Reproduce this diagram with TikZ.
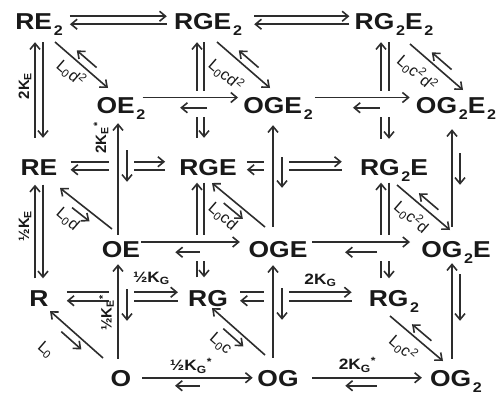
\documentclass[tikz,border=0pt]{standalone}
\usepackage{fontspec}
\setmainfont{Liberation Sans}
\usepackage{tikz}
\usetikzlibrary{arrows.meta, backgrounds}
\definecolor{inkgray}{RGB}{25, 25, 25}
\definecolor{linegray}{RGB}{45, 45, 45}
\newcommand{\dn}[1]{\kern1.5pt\raisebox{-6pt}{\fontsize{14}{14}\selectfont #1}}

\begin{document}
\begin{tikzpicture}[x=1pt, y=-1pt,
    species/.style={font=\fontsize{23}{23}\selectfont\bfseries, text=inkgray,
                    xscale=1.15, inner sep=0pt, text height=16.5pt, text depth=0pt,
                    anchor=base},
    klabel/.style={font=\fontsize{15}{15}\selectfont\bfseries, text=inkgray, inner sep=0pt},
    llabel/.style={font=\fontsize{16}{16}\selectfont, text=inkgray, inner sep=0pt, rotate=-41},
    arr/.style={-{Straight Barb[length=6pt, width=10pt]}, line width=1.6pt, draw=linegray},
    hgap/.style={preaction={draw=white, -, line width=26pt, transform canvas={yshift=-6pt}}},
    vgap/.style={preaction={draw=white, -, line width=25pt, transform canvas={xshift=3.5pt}}}
]
\useasboundingbox (0,0) rectangle (502,396);

% front layer
\node[species] (RE2) at (39,30) {RE\dn{2}};
\node[species] (RGE2) at (208,30) {RGE\dn{2}};
\node[species] (RG2E2) at (394,30) {RG\dn{2}E\dn{2}};
\node[species] (RE) at (39,175.5) {RE};
\node[species] (RGE) at (208,175.5) {RGE};
\node[species] (RG2E) at (394,175.5) {RG\dn{2}E};
\node[species] (R) at (39,306) {R};
\node[species] (RG) at (208,306) {RG};
\node[species] (RG2) at (394,306) {RG\dn{2}};

% back layer
\node[species] (OE2) at (121,113) {OE\dn{2}};
\node[species] (OGE2) at (278,113) {OGE\dn{2}};
\node[species] (OG2E2) at (456,113) {OG\dn{2}E\dn{2}};
\node[species] (OE) at (121,257.5) {OE};
\node[species] (OGE) at (278,257.5) {OGE};
\node[species] (OG2E) at (456,257.5) {OG\dn{2}E};
\node[species] (O) at (121,386) {O};
\node[species] (OG) at (278,386) {OG};
\node[species] (OG2) at (456,386) {OG\dn{2}};

\begin{scope}[on background layer]
\fill[white] (0,0) rectangle (502,396);

% front layer arrows
\foreach \a/\b/\sa/\sb/\lo in {RE2/RGE2/7pt/7pt/-2.5pt, RGE2/RG2E2/12pt/5pt/-2.5pt,
    RE/RGE/13pt/14pt/-2.5pt, RGE/RG2E/10pt/18pt/-2.5pt, R/RG/18pt/10pt/-3pt, RG/RG2/12pt/17pt/-3pt} {
  \draw[arr, shorten <=\sa, shorten >=\sb] ([yshift=5.5pt]\a.east) -- ([yshift=5.5pt]\b.west);
  \draw[arr, shorten <=\sb, shorten >=\sa] ([yshift=\lo]\b.west) -- ([yshift=\lo]\a.east);
}
\foreach \a/\b/\xl/\xr/\sa/\sb in {RE2/RE/-4pt/4pt/12pt/21pt, RE/R/-4pt/4pt/9pt/11pt,
    RGE2/RGE/-11pt/-4pt/12pt/21pt, RGE/RG/-11pt/-4pt/7pt/12pt,
    RG2E2/RG2E/-13pt/-5pt/12pt/20pt, RG2E/RG2/-13pt/-5pt/7pt/11pt} {
  \draw[arr, shorten <=\sb, shorten >=\sa] ([xshift=\xl]\b.north) -- ([xshift=\xl]\a.south);
  \draw[arr, shorten <=\sa, shorten >=\sb] ([xshift=\xr]\a.south) -- ([xshift=\xr]\b.north);
}

% back layer arrows
\foreach \a/\b/\sa/\sb/\ta/\tb in {OE2/OGE2/-3pt/5pt/36pt/34.5pt, OGE2/OG2E2/2pt/6pt/36pt/40pt,
    OE/OGE/1pt/8.5pt/48.5pt/35pt, OGE/OG2E/4.5pt/11pt/44pt/37.5pt} {
  \draw[arr, hgap, shorten <=\sa, shorten >=\sb] ([yshift=7.25pt]\a.east) -- ([yshift=7.25pt]\b.west);
  \draw[arr, shorten <=\ta, shorten >=\tb] ([yshift=-3pt]\b.west) -- ([yshift=-3pt]\a.east);
}
\foreach \a/\b/\sa/\sb/\ta/\tb in {O/OG/10.5pt/4.5pt/57.5pt/43.5pt, OG/OG2/13.5pt/8pt/53pt/46.5pt} {
  \draw[arr, shorten <=\sa, shorten >=\sb] (\a.east) -- (\b.west);
  \draw[arr, shorten <=\ta, shorten >=\tb] ([yshift=-8pt]\b.west) -- ([yshift=-8pt]\a.east);
}
\foreach \a/\b/\xl/\xr/\sa/\sb/\ta/\tb in {OE/OE2/-3pt/6pt/6pt/10pt/37pt/59pt,
    O/OE/-3pt/6pt/10.5pt/6.5pt/31.5pt/48.5pt, OGE/OGE2/-5pt/4pt/14pt/12pt/44pt/53pt,
    OG/OGE/-5pt/4pt/11.5pt/7.5pt/30.5pt/49.5pt} {
  \draw[arr, vgap, shorten <=\sa, shorten >=\sb] ([xshift=\xl]\a.north) -- ([xshift=\xl]\b.south);
  \draw[arr, shorten <=\ta, shorten >=\tb] ([xshift=\xr]\b.south) -- ([xshift=\xr]\a.north);
}
\foreach \a/\b/\xl/\xr/\sa/\sb/\ta/\tb in {OG2E/OG2E2/-4pt/4pt/14pt/16pt/40pt/56pt,
    OG2/OG2E/-4pt/4pt/10.5pt/5.5pt/16.5pt/48.5pt} {
  \draw[arr, shorten <=\sa, shorten >=\sb] ([xshift=\xl]\a.north) -- ([xshift=\xl]\b.south);
  \draw[arr, shorten <=\ta, shorten >=\tb] ([xshift=\xr]\b.south) -- ([xshift=\xr]\a.north);
}

% front to back
\foreach \f/\b/\fx/\fy/\bx/\by in {RE2/OE2/16/12/-13/-25, RGE2/OGE2/9/12/-8/-25,
    RG2E2/OG2E2/16/14/7/-23, RG2E/OG2E/3/9.5/-6/-27.5, RG2/OG2/-4/10/-13/-25} {
  \draw[arr] ([shift={(\fx,\fy)}]\f.base) -- ([shift={(\bx,\by)}]\b.base);
  \draw[arr, shorten <=22pt, shorten >=22pt, transform canvas={shift={(5.2,-6)}}]
    ([shift={(\bx,\by)}]\b.base) -- ([shift={(\fx,\fy)}]\f.base);
}
\foreach \f/\b/\fx/\fy/\bx/\by in {RE/OE/21/12.5/-9/-28.5, RGE/OGE/4/7.5/-13/-30.5,
    R/O/11/5/-18/-28, RG/OG/4/2/-13/-31} {
  \draw[arr] ([shift={(\bx,\by)}]\b.base) -- ([shift={(\fx,\fy)}]\f.base);
  \draw[arr, shorten <=22pt, shorten >=22pt, transform canvas={shift={(-5.2,6)}}]
    ([shift={(\fx,\fy)}]\f.base) -- ([shift={(\bx,\by)}]\b.base);
}
\end{scope}

% rate labels
\node[klabel, rotate=90] (kE2) at (25,86) {2K\textsubscript{E}};
\node[klabel, rotate=90] (kE1) at (25,226) {½K\textsubscript{E}};
\node[klabel, rotate=90] (kE2s) at (101,138) {2K\textsubscript{E}\textsuperscript{*}};
\node[klabel, rotate=90] (kE1s) at (106.5,313) {½K\textsubscript{E}\textsuperscript{*}};
\node[klabel, xscale=1.15] (kG1) at (151.5,278.5) {½K\textsubscript{G}};
\node[klabel, xscale=1.15] (kG2) at (320.5,280) {2K\textsubscript{G}};
\node[klabel, xscale=1.15] (kG1s) at (191,366) {½K\textsubscript{G}\textsuperscript{*}};
\node[klabel, xscale=1.15] (kG2s) at (357.5,365) {2K\textsubscript{G}\textsuperscript{*}};

\node[llabel] (L1) at (71,73) {L\textsubscript{0}d\textsuperscript{2}};
\node[llabel] (L2) at (226,75) {L\textsubscript{0}cd\textsuperscript{2}};
\node[llabel] (L3) at (417,73) {L\textsubscript{0}c\textsuperscript{2}d\textsuperscript{2}};
\node[llabel] (L4) at (67.5,219.5) {L\textsubscript{0}d};
\node[llabel] (L5) at (222.5,217) {L\textsubscript{0}cd};
\node[llabel] (L6) at (411.5,217) {L\textsubscript{0}c\textsuperscript{2}d};
\node[llabel] (L7) at (45.5,350) {L\textsubscript{0}};
\node[llabel] (L8) at (220.5,344) {L\textsubscript{0}c};
\node[llabel] (L9) at (403,348) {L\textsubscript{0}c\textsuperscript{2}};

\end{tikzpicture}
\end{document}
